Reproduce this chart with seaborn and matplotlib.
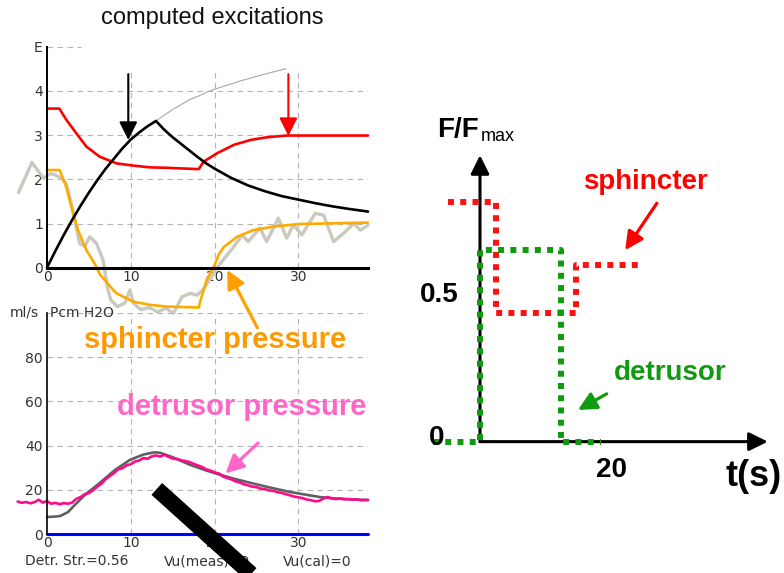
import matplotlib
matplotlib.use("Agg")
import matplotlib.pyplot as plt
import seaborn as sns

sns.set_style("white")
plt.rcParams['font.family'] = ['DejaVu Sans']

# top panel: computed excitations (E)
black_x = [0, 1, 2, 3, 4, 5, 6, 7, 8, 9, 10, 11, 12, 13, 14, 15, 16, 17, 18, 19, 20,
           22, 24, 26, 28, 30, 32, 34, 36, 38.3]
black_y = [0, 0.38, 0.74, 1.08, 1.4, 1.7, 1.98, 2.24, 2.47, 2.7, 2.9, 3.06, 3.2, 3.32,
           3.12, 2.95, 2.8, 2.65, 2.5, 2.36, 2.24, 2.03, 1.86, 1.73, 1.62, 1.54, 1.46,
           1.39, 1.33, 1.27]
thin_x = [13, 14.3, 15, 17, 18.3, 19, 21, 23, 25, 27, 28.5]
thin_y = [3.32, 3.49, 3.58, 3.8, 3.9, 3.97, 4.1, 4.22, 4.33, 4.43, 4.5]
red_x = [0, 1.47, 2.33, 3.5, 4.7, 6.3, 8.3, 10.3, 12.3, 14.3, 18.1, 18.7, 20.3, 22.3,
         24.3, 26.2, 28.6, 38.3]
red_y = [3.6, 3.6, 3.34, 3.04, 2.74, 2.51, 2.36, 2.31, 2.27, 2.26, 2.23, 2.4, 2.59,
         2.78, 2.89, 2.95, 2.99, 2.99]
orange_x = [0, 1.5, 2.3, 2.9, 3.7, 4.7, 5.9, 6.3, 7.9, 8.3, 10.3, 12.3, 14.3, 18.1,
            18.5, 19.1, 19.9, 20.5, 21.1, 22, 22.7, 24.6, 27, 30.2, 38.3]
orange_y = [2.21, 2.21, 1.83, 1.38, 0.85, 0.4, 0.02, -0.15, -0.5, -0.58, -0.77, -0.84,
            -0.88, -0.9, -0.62, -0.25, 0.02, 0.3, 0.47, 0.6, 0.7, 0.85, 0.93, 0.99, 1.02]
meas_x = [-3.4, -1.8, -0.4, 0.36, 0.96, 1.75, 2.3, 2.9, 3.9, 4.5, 5.1, 5.9, 6.7, 7.2,
          7.6, 8.4, 9.3, 9.9, 10.3, 11.2, 12.2, 13.2, 14.2, 15.1, 16.1, 17.1, 17.9,
          18.6, 19.5, 20.3, 21.1, 22.2, 23.3, 24.0, 25.4, 26.2, 27.6, 28.6, 29.4, 30.4,
          32.0, 33.0, 34.2, 35.4, 36.6, 37.4, 38.3]
meas_y = [1.7, 2.38, 2.02, 2.13, 2.1, 2.02, 1.9, 1.46, 0.55, 0.48, 0.7, 0.55, 0.17,
          -0.43, -0.73, -0.88, -0.8, -0.5, -0.8, -0.95, -0.9, -1.0, -0.92, -1.03, -0.66,
          -0.58, -0.62, -0.5, -0.25, 0.0, 0.2, 0.45, 0.74, 0.59, 0.9, 0.59, 1.12, 0.67,
          0.97, 0.74, 1.23, 1.19, 0.59, 0.78, 1.0, 0.85, 0.96]

# bottom panel: pressures
pdet_x = [-3.5, -3.0, -2.5, -2.0, -1.5, -1.0, -0.5, 0.0, 0.5, 1.0, 1.5, 2.0, 2.5, 3.0,
          3.5, 4.0, 4.5, 5.0, 5.5, 6.0, 6.5, 7.0, 7.5, 8.0, 8.5, 9.0, 9.5, 10.0, 10.5,
          11.0, 11.5, 12.0, 12.5, 13.0, 13.5, 14.0, 14.5, 15.0, 15.5, 16.0, 16.5, 17.0,
          17.5, 18.0, 18.5, 19.0, 19.5, 20.0, 20.5, 21.0, 21.5, 22.0, 22.5, 23.0, 23.5,
          24.0, 24.5, 25.0, 25.5, 26.0, 26.5, 27.0, 27.5, 28.0, 28.5, 29.0, 29.5, 30.0,
          30.5, 31.0, 31.5, 32.0, 32.5, 33.0, 33.5, 34.0, 34.5, 35.0, 35.5, 36.0, 36.5,
          37.0, 37.5, 38.3]
pdet_y = [14.8, 14.2, 14.6, 14.0, 14.5, 15.6, 14.3, 15.0, 13.8, 14.2, 13.6, 14.1, 13.8,
          14.3, 16.0, 16.8, 18.1, 18.6, 19.9, 21.5, 22.8, 24.9, 26.3, 27.6, 29.4, 29.8,
          31.2, 31.6, 32.9, 33.3, 34.4, 34.1, 35.2, 35.6, 35.1, 35.9, 35.0, 34.2, 34.0,
          33.4, 33.1, 32.6, 31.8, 31.1, 30.4, 29.3, 28.8, 27.9, 27.5, 26.1, 25.4, 24.8,
          23.9, 23.4, 22.6, 22.1, 21.5, 21.3, 20.6, 20.4, 19.8, 19.6, 19.0, 18.7, 18.1,
          17.6, 17.0, 16.7, 16.3, 15.7, 15.4, 14.9, 15.1, 16.2, 16.8, 16.1, 15.9, 16.2,
          15.8, 15.9, 15.6, 15.8, 15.4, 15.5]
pcalc_x = [0, 1, 1.6, 2.5, 3.3, 4.5, 6.3, 8.1, 9.9, 11.5, 12.8, 13.5, 15, 17.1, 19,
           20.7, 22.5, 24.3, 26.5, 29, 31, 32.6, 34, 35.6, 37, 38.3]
pcalc_y = [7.8, 8.0, 8.3, 10, 13.2, 17.7, 23.2, 29, 33.6, 36, 37.0, 36.8, 34.8, 31.3,
           28.8, 26.8, 24.9, 23.2, 21.2, 19.1, 17.8, 16.8, 16.3, 15.9, 15.6, 15.5]
flow_x = [0, 38.3]
flow_y = [0, 0]

# right panel: F/Fmax schematic
sph_t = [-4.8, 2.5, 2.5, 14.5, 14.5, 24.2]
sph_f = [0.818, 0.818, 0.438, 0.438, 0.602, 0.602]
det_t = [-7.1, 0, 0, 12.3, 12.3, 18.3]
det_f = [0, 0, 0.653, 0.653, 0, 0]

W, H = 784, 573
fig = plt.figure(figsize=(W / 100, H / 100), dpi=100)
ax_top = fig.add_axes([47 / W, 1 - 267.7 / H, 321 / W, 221 / H])
ax_bot = fig.add_axes([47 / W, 1 - 534.3 / H, 321 / W, 221.5 / H])
ax_r = fig.add_axes([400 / W, 1 - 500 / H, 384 / W, 400 / H])
for ax in (ax_top, ax_bot, ax_r):
    ax.set_facecolor('none')

grid_kw = dict(colors='#b4b4b4', linestyles=(0, (5, 4)), lw=0.8, zorder=0.5)


def style_ticks(ax):
    ax.tick_params(axis='x', length=0, pad=1.5, labelsize=10, labelcolor='#333333')
    ax.tick_params(axis='y', length=0, pad=3, labelsize=10, labelcolor='#333333')


# ---- top panel
line_kw = dict(estimator=None, sort=False, clip_on=False)
sns.lineplot(x=meas_x, y=meas_y, ax=ax_top, color='#c9c9bd', lw=2.4, **line_kw)
sns.lineplot(x=thin_x, y=thin_y, ax=ax_top, color='#a8a8a8', lw=0.8, **line_kw)
sns.lineplot(x=red_x, y=red_y, ax=ax_top, color='#ff0000', lw=1.9, **line_kw)
sns.lineplot(x=orange_x, y=orange_y, ax=ax_top, color='#ffaa00', lw=1.9, **line_kw)
sns.lineplot(x=black_x, y=black_y, ax=ax_top, color='black', lw=1.9, **line_kw)
ax_top.set_xlim(0, 38.3)
ax_top.set_ylim(0, 5)
ax_top.vlines([10, 20, 30], 0, 4.5, **grid_kw)
ax_top.hlines([1, 2, 3, 4], 0, 38.3, **grid_kw)
ax_top.hlines(5, 0, 4, **grid_kw)
ax_top.set_xticks([0, 10, 20, 30])
ax_top.set_yticks([0, 1, 2, 3, 4, 5])
ax_top.set_yticklabels(['0', '1', '2', '3', '4', 'E'])
style_ticks(ax_top)
sns.despine(ax=ax_top)
ax_top.spines['left'].set_linewidth(1.4)
ax_top.spines['bottom'].set_linewidth(2.2)
for s in ('left', 'bottom'):
    ax_top.spines[s].set_color('black')
ax_top.set_xlabel('')
ax_top.set_ylabel('')

arrow_thin = dict(arrowstyle='-|>,head_length=1.1,head_width=0.55', lw=1.5,
                  shrinkA=0, shrinkB=0, mutation_scale=10)
ax_top.annotate('', xy=(9.7, 2.89), xytext=(9.7, 4.38),
                arrowprops=dict(color='black', **arrow_thin), annotation_clip=False)
ax_top.annotate('', xy=(28.8, 2.98), xytext=(28.8, 4.38),
                arrowprops=dict(color='#ff0000', **arrow_thin), annotation_clip=False)
arrow_thick = dict(arrowstyle='-|>,head_length=1.1,head_width=0.55', lw=2.3,
                   shrinkA=0, shrinkB=0, mutation_scale=10)
ax_top.annotate('', xy=(21.5, -0.05), xytext=(25.1, -1.36),
                arrowprops=dict(color='#ffa000', **arrow_thick), annotation_clip=False)

fig.text(212 / W, 1 - 18 / H, 'computed excitations', ha='center', va='center',
         fontsize=17, family='Liberation Sans', color='#111111')

# ---- bottom panel
sns.lineplot(x=flow_x, y=flow_y, ax=ax_bot, color='#0000ff', lw=2.2, **line_kw)
sns.lineplot(x=pcalc_x, y=pcalc_y, ax=ax_bot, color='#606060', lw=1.9, **line_kw)
sns.lineplot(x=pdet_x, y=pdet_y, ax=ax_bot, color='#ff0a8c', lw=1.9, **line_kw)
ax_bot.set_xlim(0, 38.3)
ax_bot.set_ylim(0, 100)
ax_bot.vlines([10, 20, 30], 0, 100, **grid_kw)
ax_bot.hlines([20, 40, 60, 80, 100], 0, 38.3, **grid_kw)
ax_bot.set_xticks([0, 10, 20, 30])
ax_bot.set_yticks([0, 20, 40, 60, 80])
style_ticks(ax_bot)
sns.despine(ax=ax_bot)
ax_bot.spines['left'].set_linewidth(1.2)
ax_bot.spines['left'].set_color('black')
ax_bot.spines['bottom'].set_visible(False)
ax_bot.set_xlabel('')
ax_bot.set_ylabel('')

small = dict(ha='left', va='center', fontsize=10, color='#333333', clip_on=False)
ax_bot.text(-4.4, 100, 'ml/s', **small)
ax_bot.text(0.35, 100, 'Pcm H2O', **small)
ax_bot.text(-2.6, -12.1, 'Detr. Str.=0.56', **small)
ax_bot.text(13.9, -12.1, 'Vu(meas)=0', **small)
ax_bot.text(28.2, -12.1, 'Vu(cal)=0', **small)
ax_bot.text(20.1, 87.7, 'sphincter pressure', ha='center', va='center', fontsize=21,
            fontweight='bold', family='Liberation Sans', color='#ff9900', clip_on=False)
ax_bot.text(23.2, 57.5, 'detrusor pressure', ha='center', va='center', fontsize=21,
            fontweight='bold', family='Liberation Sans', color='#ff66c8', clip_on=False)
ax_bot.annotate('', xy=(21.3, 27.5), xytext=(25.2, 41.2),
                arrowprops=dict(color='#ff66c8', **arrow_thick), annotation_clip=False)
# black bar across the bottom panel
ax_bot.plot([13.1, 26.4], [20.5, -24.9], color='black', lw=11.5,
            solid_capstyle='butt', clip_on=False, zorder=10)

# ---- right panel
axis_arrow = dict(arrowstyle='-|>,head_length=1.13,head_width=0.56', color='black',
                  lw=2.2, shrinkA=0, shrinkB=0, mutation_scale=10)
ax_r.annotate('', xy=(0, 0.977), xytext=(0, 0), arrowprops=axis_arrow)
ax_r.annotate('', xy=(43.6, 0), xytext=(0, 0), arrowprops=axis_arrow)

sns.lineplot(x=sph_t, y=sph_f, ax=ax_r, color='#ff1010', lw=4.3, estimator=None,
             sort=False, linestyle=(0, (1, 1.05)), dash_capstyle='butt', zorder=3)
sns.lineplot(x=det_t, y=det_f, ax=ax_r, color='#109a10', lw=4.3, estimator=None,
             sort=False, linestyle=(0, (1, 1.05)), dash_capstyle='butt', zorder=3)
ax_r.set_xlim(-12.12, 46.06)
ax_r.set_ylim(-0.199, 1.165)
ax_r.axis('off')

bold = dict(fontweight='bold', family='Liberation Sans', ha='center', va='center')
ax_r.text(-3.3, 1.062, 'F/F', fontsize=20, color='black', **bold)
ax_r.text(0.15, 1.04, 'max', fontsize=13, color='black', family='Liberation Sans',
          ha='left', va='center')
ax_r.text(-6.1, 0.5, '0.5', fontsize=20, color='black', **bold)
ax_r.text(-6.5, 0.013, '0', fontsize=20, color='black', **bold)
ax_r.text(20, -0.097, '20', fontsize=20, color='black', **bold)
ax_r.text(41.4, -0.12, 't(s)', fontsize=26, color='black', **bold)
ax_r.text(25.0, 0.885, 'sphincter', fontsize=20, color='#ff0000', **bold)
ax_r.text(28.8, 0.234, 'detrusor', fontsize=20, color='#109a10', **bold)
ax_r.annotate('', xy=(22.0, 0.653), xytext=(26.8, 0.813),
              arrowprops=dict(color='#ff0000', **arrow_thick))
ax_r.annotate('', xy=(14.85, 0.108), xytext=(19.2, 0.163),
              arrowprops=dict(color='#109a10', **arrow_thick))

fig.savefig('out.png', dpi=100)
